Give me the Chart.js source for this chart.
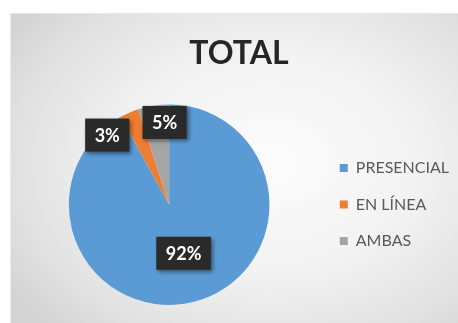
<!DOCTYPE html>
<html>
<head>
<meta charset="utf-8">
<script src="https://cdn.jsdelivr.net/npm/chart.js@4.4.1/dist/chart.umd.min.js"></script>
<style>
    html, body {
        margin: 0;
        padding: 0;
        background: #ffffff;
    }
    #panel {
        position: absolute;
        left: 10px;
        top: 13px;
        width: 448px;
        height: 310px;
        background: radial-gradient(ellipse 70% 75% at 58% 48%, #fcfcfc 0%, #f3f3f3 45%, #e2e2e2 80%, #d4d4d4 100%);
        border-top: 1px solid #e6e6e6;
        border-left: 1px solid #ececec;
        box-sizing: border-box;
    }
</style>
</head>
<body>
<div id="panel">
    <canvas id="pie-chart" width="448" height="310"></canvas>
</div>
<script>
// Modalidad de estudio, total
const categories = ['PRESENCIAL', 'EN LÍNEA', 'AMBAS'];
const percents = [92, 3, 5];
const sliceColors = ['#5b9bd5', '#ed7d31', '#a5a5a5'];
const chartTitle = 'TOTAL';

// Where each value box sits: fraction of the radius, plus a nudge in px
const labelRadius = [0.5, 0.8, 0.8];
const labelNudge = [[2, 0], [-30, 4], [8, -3]];

// Dark value boxes over the slices
const valueBoxes = {
    id: 'valueBoxes',
    afterDatasetsDraw(chart) {
        const ctx = chart.ctx;
        const meta = chart.getDatasetMeta(0);
        ctx.save();
        ctx.font = 'bold 18px Lato, "Open Sans", sans-serif';
        ctx.textAlign = 'center';
        ctx.textBaseline = 'middle';
        meta.data.forEach((arc, i) => {
            const mid = (arc.startAngle + arc.endAngle) / 2;
            const r = arc.outerRadius * labelRadius[i];
            const x = arc.x + Math.cos(mid) * r + labelNudge[i][0];
            const y = arc.y + Math.sin(mid) * r + labelNudge[i][1];
            const text = percents[i] + '%';
            const w = ctx.measureText(text).width + 19;
            const h = 33;

            ctx.shadowColor = 'rgba(0, 0, 0, 0.45)';
            ctx.shadowBlur = 4;
            ctx.shadowOffsetX = 2;
            ctx.shadowOffsetY = 2;
            ctx.fillStyle = '#2a2a2a';
            ctx.fillRect(x - w / 2, y - h / 2, w, h);

            ctx.shadowColor = 'transparent';
            ctx.fillStyle = '#ffffff';
            ctx.fillText(text, x, y + 1);
        });
        ctx.restore();
    }
};

const ctx = document.getElementById('pie-chart').getContext('2d');
const chart = new Chart(ctx, {
    type: 'pie',
    data: {
        labels: categories,
        datasets: [{
            data: percents,
            backgroundColor: sliceColors,
            borderWidth: 0
        }]
    },
    options: {
        responsive: false,
        animation: false,
        layout: {
            padding: { left: 8, right: 0, top: 0, bottom: 19 }
        },
        plugins: {
            title: {
                display: true,
                text: chartTitle,
                color: '#262626',
                font: { family: 'Lato, "Open Sans", sans-serif', size: 32, weight: 'bold' },
                padding: { top: 20, bottom: 32 }
            },
            legend: {
                position: 'right',
                // empty legend title only pushes the items down beside the pie
                title: {
                    display: true,
                    text: '',
                    font: { size: 10 },
                    padding: { top: 39, bottom: 39 }
                },
                labels: {
                    boxWidth: 8,
                    boxHeight: 8,
                    padding: 20.5,
                    color: '#595959',
                    font: { family: 'Lato, "Open Sans", sans-serif', size: 16 }
                }
            },
            tooltip: { enabled: false }
        }
    },
    plugins: [valueBoxes]
});
</script>
</body>
</html>
